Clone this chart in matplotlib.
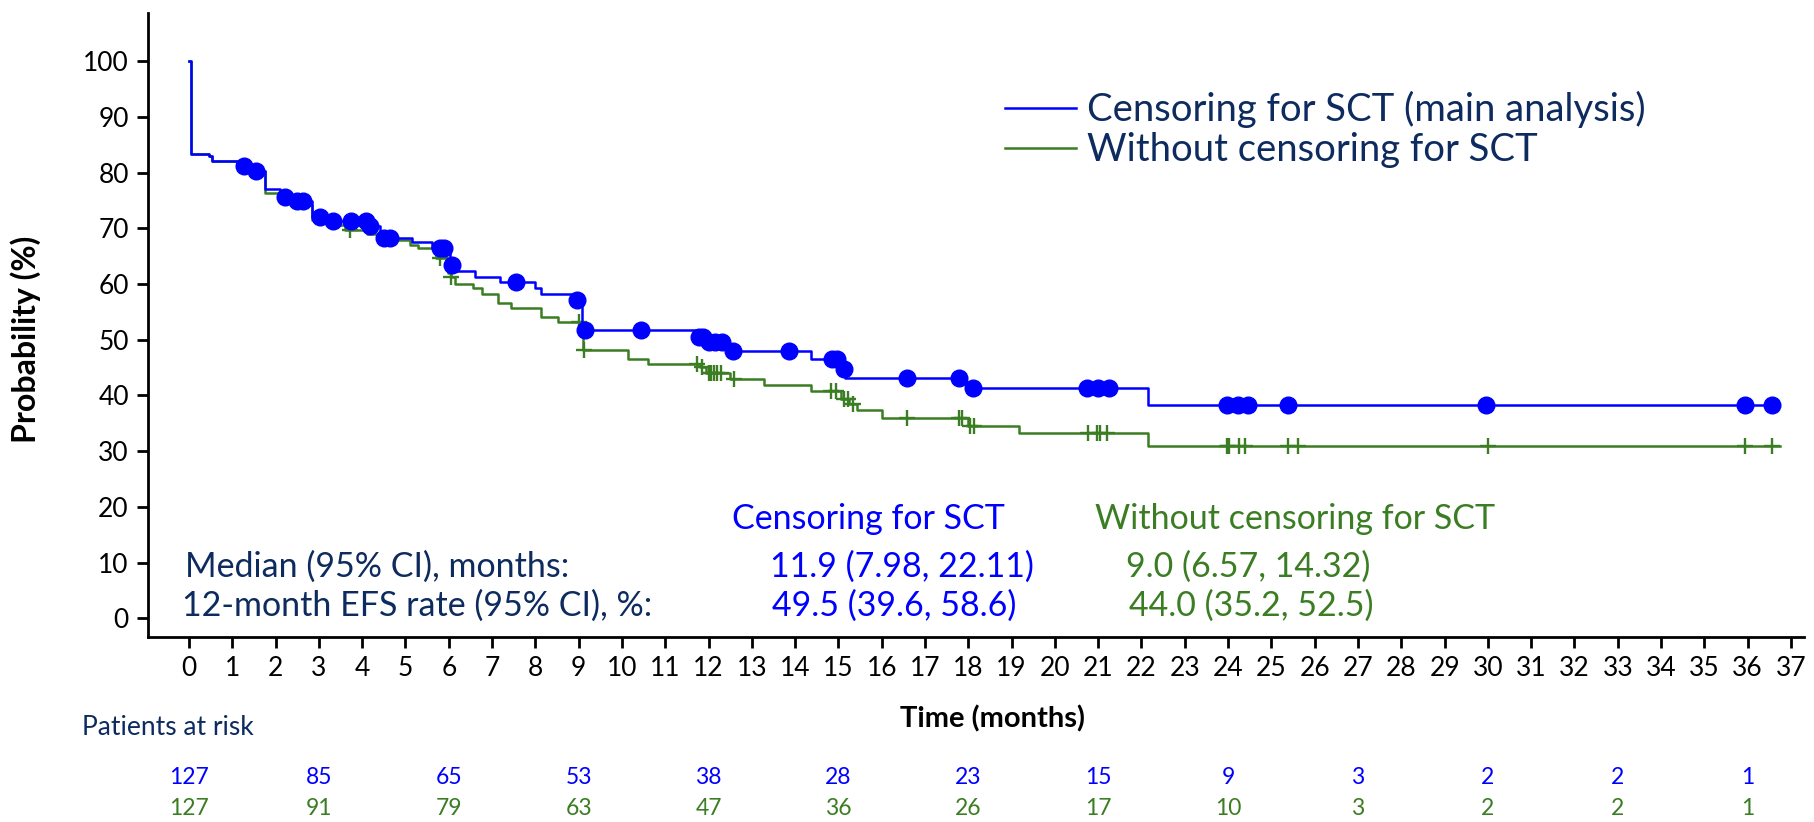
import numpy as np
import matplotlib.pyplot as plt
from matplotlib.transforms import blended_transform_factory

plt.rcParams['font.family'] = ['Lato', 'DejaVu Sans']

BLUE = '#0000ff'
GREEN = '#3b7d23'
NAVY = '#0d2b5e'

# KM curve: censoring for SCT (step start times, survival %)
blue_t = [0, 0.04, 0.47, 0.54, 1.1, 1.45, 1.76, 2.1, 2.45, 2.84, 3.2, 4.12, 4.42, 5.15, 5.62,
          6.02, 6.12, 6.61, 7.19, 8.0, 8.13, 8.9, 9.07, 11.7, 11.95, 12.45, 14.36, 15.05,
          15.15, 17.95, 22.16, 36.6]
blue_s = [100, 83.3, 82.9, 82.0, 81.1, 80.3, 77.0, 75.6, 74.9, 72.0, 71.3, 70.4, 68.3, 67.6, 66.5,
          63.4, 62.4, 61.3, 60.3, 59.3, 58.2, 57.1, 51.7, 50.5, 49.5, 48.0, 46.6, 44.8,
          43.2, 41.4, 38.2, 38.2]
blue_cens = [1.26, 1.55, 2.22, 2.5, 2.64, 3.03, 3.32, 3.74, 4.09, 4.17, 4.5, 4.65, 5.8, 5.9,
             6.07, 7.55, 8.97, 9.15, 10.44, 11.77, 11.88, 12.0, 12.15, 12.3, 12.57, 13.86,
             14.85, 14.96, 15.12, 16.59, 17.79, 18.1, 20.75, 21.0, 21.24, 23.97, 24.24, 24.45,
             25.39, 29.96, 35.93, 36.57]

# KM curve: without censoring for SCT
green_t = [0, 0.04, 0.47, 0.54, 1.1, 1.45, 1.76, 2.1, 2.45, 2.84, 3.2, 3.6, 4.12, 4.42, 5.1, 5.3,
           5.7, 5.98, 6.06, 6.15, 6.55, 6.76, 7.14, 7.43, 8.13, 8.53, 9.07, 9.1, 10.15, 10.61,
           11.8, 11.95, 12.5, 13.27, 14.36, 15.05, 15.25, 15.42, 16.0, 18.0, 19.16, 22.16, 36.75]
green_s = [100, 83.3, 82.9, 82.0, 81.1, 80.3, 76.4, 75.0, 74.2, 71.5, 70.5, 69.7, 69.0, 67.9, 67.0,
           66.4, 64.6, 62.0, 61.3, 60.0, 59.3, 58.2, 56.6, 55.6, 54.1, 53.2, 50.5, 48.2, 46.6,
           45.7, 45.1, 44.0, 42.9, 41.8, 40.8, 39.3, 38.5, 37.3, 36.0, 34.5, 33.2, 30.9, 30.9]
green_cens = [3.72, 5.79, 6.06, 9.0, 9.13, 11.73, 11.85, 12.0, 12.06, 12.12, 12.2, 12.28, 12.58,
              14.83, 14.95, 15.12, 15.22, 15.33, 16.59, 17.79, 17.85, 18.04, 18.12, 20.77,
              20.97, 21.03, 21.2, 23.97, 24.02, 24.26, 24.39, 25.39, 25.62, 30.0, 35.93, 36.57]

risk_times = [0, 3, 6, 9, 12, 15, 18, 21, 24, 27, 30, 33, 36]
risk_blue = [127, 85, 65, 53, 38, 28, 23, 15, 9, 3, 2, 2, 1]
risk_green = [127, 91, 79, 63, 47, 36, 26, 17, 10, 3, 2, 2, 1]

labels = ['Censoring for SCT (main analysis)', 'Without censoring for SCT']


def step_value(times, surv, x):
    idx = np.searchsorted(times, x, side='right') - 1
    return np.asarray(surv)[idx]


fig = plt.figure(figsize=(18.15, 8.22), dpi=100)
ax = fig.add_axes([0.0817, 0.2255, 0.9122, 0.7591])

ax.step(green_t, green_s, where='post', color=GREEN, lw=1.8, zorder=2, label=labels[1])
ax.step(blue_t, blue_s, where='post', color=BLUE, lw=1.8, zorder=3, label=labels[0])
ax.plot(green_cens, step_value(green_t, green_s, green_cens), ls='none', marker='+',
        ms=12, mew=1.7, color=GREEN, zorder=2)
ax.plot(blue_cens, step_value(blue_t, blue_s, blue_cens), ls='none', marker='o',
        ms=12, color=BLUE, zorder=4)

ax.set_xlim(-0.94, 37.3)
ax.set_ylim(-3.3, 108.7)
ax.set_xticks(range(0, 38))
ax.set_yticks(range(0, 101, 10))
ax.tick_params(labelsize=19, length=8, width=2, pad=6)
for side in ['top', 'right']:
    ax.spines[side].set_visible(False)
for side in ['left', 'bottom']:
    ax.spines[side].set_linewidth(2)

ax.set_ylabel('Probability (%)', fontsize=23, fontweight='bold')
ax.yaxis.set_label_coords(-0.065, 0.477)
ax.set_xlabel('Time (months)', fontsize=21, fontweight='bold')
ax.xaxis.set_label_coords(0.5096, -0.132)
ax.xaxis.label.set_va('center')

# legend
h, l = ax.get_legend_handles_labels()
ax.legend(h[::-1], l[::-1], loc='upper left', bbox_to_anchor=(1005 / 1815, 1 - 91 / 822),
          bbox_transform=fig.transFigure, frameon=False, fontsize=27.5, labelcolor=NAVY,
          handlelength=1.85, handletextpad=0.3, labelspacing=0.1, borderpad=0, borderaxespad=0)

# summary table
FS = 24.5
ax.text(15.69, 17.9, 'Censoring for SCT', color=BLUE, fontsize=FS, ha='center', va='center')
ax.text(25.55, 17.9, 'Without censoring for SCT', color=GREEN, fontsize=FS, ha='center', va='center')
ax.text(-0.09, 9.3, 'Median (95% CI), months:', color=NAVY, fontsize=FS, va='center')
ax.text(-0.16, 2.3, '12-month EFS rate (95% CI), %:', color=NAVY, fontsize=FS, va='center')
ax.text(13.42, 9.3, '11.9 (7.98, 22.11)', color=BLUE, fontsize=FS, va='center')
ax.text(13.47, 2.3, '49.5 (39.6, 58.6)', color=BLUE, fontsize=FS, va='center')
ax.text(21.65, 9.3, '9.0 (6.57, 14.32)', color=GREEN, fontsize=FS, va='center')
ax.text(21.71, 2.3, '44.0 (35.2, 52.5)', color=GREEN, fontsize=FS, va='center')

# patients at risk
fig.text(168 / 1815, 1 - 727 / 822, 'Patients at risk', color=NAVY, fontsize=19,
         ha='center', va='center')
trans = blended_transform_factory(ax.transData, fig.transFigure)
for t, nb, ng in zip(risk_times, risk_blue, risk_green):
    ax.text(t, 1 - 777 / 822, str(nb), color=BLUE, fontsize=16.5, ha='center', va='center',
            transform=trans, clip_on=False)
    ax.text(t, 1 - 808.5 / 822, str(ng), color=GREEN, fontsize=16.5, ha='center', va='center',
            transform=trans, clip_on=False)

fig.savefig('out.png', dpi=100)
